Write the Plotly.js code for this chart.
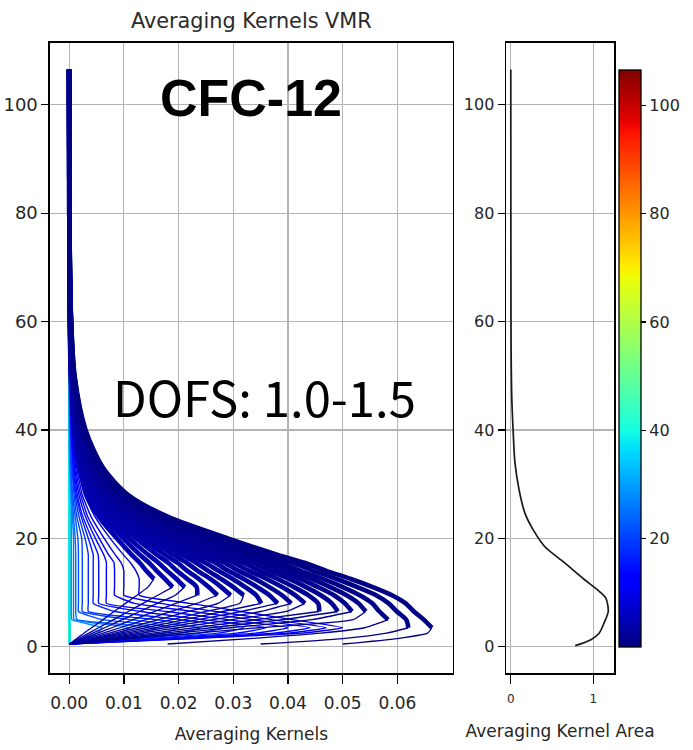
<!DOCTYPE html>
<html><head><meta charset="utf-8">
<script src="https://cdn.plot.ly/plotly-3.0.1.min.js"></script>
<style>html,body{margin:0;padding:0;background:#fff;} #chart{width:693px;height:750px;}</style>
</head><body><div id="chart"></div>
<script>
// ---- data ----
const altGrid = [0.5, 1.5, 2.5, 3.5, 5, 6.5, 8, 9.5, 11, 12.5, 14, 15.5, 17, 20, 24, 28, 33, 40, 50, 62, 80, 106.5];

// altitude (km) of each averaging-kernel row, increasing
const rowAlt = [0.3, 0.55, 0.8, 1.05, 1.3, 1.55, 1.8, 2.05, 2.3, 2.55, 2.8, 3.05, 3.3, 3.55, 3.8, 4.05, 4.3, 4.55,
                8.5, 10, 11.5, 13, 14.5, 16, 18, 20, 22, 24, 26, 28,
                36, 40, 44, 48,
                52, 62, 74, 88, 104];

// kernel values of each row on altGrid
const akRows = [
 [0.05, 0.06, 0.0655, 0.0663, 0.0648, 0.063, 0.0615, 0.059, 0.0555, 0.0515, 0.047, 0.043, 0.038, 0.029, 0.018, 0.0108, 0.0062, 0.003, 0.001, 0.0003, 0.00005, 0],
 [0.035, 0.05, 0.058, 0.062, 0.0616, 0.0599, 0.0584, 0.0561, 0.0527, 0.0489, 0.0447, 0.0409, 0.0361, 0.0276, 0.0171, 0.0103, 0.0059, 0.0029, 0.00095, 0.0003, 0.00005, 0],
 [0.018, 0.033, 0.046, 0.054, 0.0583, 0.0567, 0.0554, 0.0531, 0.05, 0.0464, 0.0423, 0.0387, 0.0342, 0.0261, 0.0162, 0.0097, 0.0056, 0.0027, 0.0009, 0.00027, 0.00005, 0],
 [0, 0.0115, 0.0231, 0.0346, 0.0519, 0.0542, 0.0529, 0.0507, 0.0477, 0.0443, 0.0404, 0.037, 0.0327, 0.0249, 0.0155, 0.0093, 0.0053, 0.0026, 0.00086, 0.00026, 0.00004, 0],
 [0, 0.0099, 0.0197, 0.0296, 0.0444, 0.0517, 0.0504, 0.0484, 0.0455, 0.0422, 0.0385, 0.0353, 0.0312, 0.0238, 0.0148, 0.0089, 0.0051, 0.0025, 0.00082, 0.00025, 0.00004, 0],
 [0, 0.0087, 0.0174, 0.026, 0.0391, 0.0491, 0.048, 0.046, 0.0433, 0.0402, 0.0367, 0.0335, 0.0296, 0.0226, 0.014, 0.0084, 0.0048, 0.0023, 0.00078, 0.00023, 0.00004, 0],
 [0, 0.0076, 0.0152, 0.0229, 0.0343, 0.0457, 0.0455, 0.0437, 0.0411, 0.0381, 0.0348, 0.0318, 0.0281, 0.0215, 0.0133, 0.008, 0.0046, 0.0022, 0.00074, 0.00022, 0.00004, 0],
 [0, 0.0066, 0.0132, 0.0199, 0.0298, 0.0397, 0.0431, 0.0413, 0.0389, 0.0361, 0.0329, 0.0301, 0.0266, 0.0203, 0.0126, 0.0076, 0.0043, 0.0021, 0.0007, 0.00021, 0.00004, 0],
 [0, 0.0058, 0.0117, 0.0175, 0.0263, 0.035, 0.0406, 0.0389, 0.0366, 0.034, 0.031, 0.0284, 0.0251, 0.0191, 0.0119, 0.0071, 0.0041, 0.002, 0.00066, 0.0002, 0.00003, 0],
 [0, 0.0052, 0.0105, 0.0157, 0.0236, 0.0315, 0.0381, 0.0366, 0.0344, 0.0319, 0.0291, 0.0267, 0.0236, 0.018, 0.0112, 0.0067, 0.0038, 0.0019, 0.00062, 0.00019, 0.00003, 0],
 [0, 0.0047, 0.0094, 0.014, 0.0211, 0.0281, 0.0351, 0.0342, 0.0322, 0.0299, 0.0273, 0.0249, 0.022, 0.0168, 0.0104, 0.0063, 0.0036, 0.0017, 0.00058, 0.00017, 0.00003, 0],
 [0, 0.0042, 0.0083, 0.0125, 0.0187, 0.025, 0.0312, 0.0319, 0.03, 0.0278, 0.0254, 0.0232, 0.0205, 0.0157, 0.0097, 0.0058, 0.0033, 0.0016, 0.00054, 0.00016, 0.00003, 0],
 [0, 0.0036, 0.0073, 0.0109, 0.0163, 0.0218, 0.0272, 0.0295, 0.0278, 0.0258, 0.0235, 0.0215, 0.019, 0.0145, 0.009, 0.0054, 0.0031, 0.0015, 0.0005, 0.00015, 0.00003, 0],
 [0, 0.0031, 0.0062, 0.0093, 0.014, 0.0186, 0.0233, 0.0271, 0.0255, 0.0237, 0.0216, 0.0198, 0.0175, 0.0133, 0.0083, 0.005, 0.0029, 0.0014, 0.00046, 0.00014, 0.00002, 0],
 [0, 0.0026, 0.0052, 0.0078, 0.0117, 0.0156, 0.0195, 0.0234, 0.0233, 0.0216, 0.0197, 0.0181, 0.016, 0.0122, 0.0076, 0.0045, 0.0026, 0.0013, 0.00042, 0.00013, 0.00002, 0],
 [0, 0.0022, 0.0043, 0.0065, 0.0097, 0.0129, 0.0161, 0.0194, 0.0211, 0.0196, 0.0179, 0.0163, 0.0144, 0.011, 0.0068, 0.0041, 0.0024, 0.0011, 0.00038, 0.00011, 0.00002, 0],
 [0, 0.0018, 0.0036, 0.0054, 0.0081, 0.0108, 0.0135, 0.0162, 0.0189, 0.0175, 0.016, 0.0146, 0.0129, 0.0099, 0.0061, 0.0037, 0.0021, 0.001, 0.00034, 0.0001, 0.00002, 0],
 [0, 0.0014, 0.0027, 0.0041, 0.0062, 0.0082, 0.0103, 0.0124, 0.0144, 0.0155, 0.0141, 0.0129, 0.0114, 0.0087, 0.0054, 0.0032, 0.0019, 0.0009, 0.0003, 0.00009, 0.00002, 0],
 [0, 0.0225, 0.0425, 0.05, 0.0407, 0.0314, 0.0221, 0.0128, 0.0128, 0.0128, 0.0122, 0.0112, 0.0099, 0.0075, 0.0047, 0.0028, 0.0016, 0.00078, 0.00026, 0.00008, 0.00001, 0],
 [0, 0.0212, 0.04, 0.047, 0.0369, 0.0268, 0.0167, 0.01, 0.01, 0.01, 0.01, 0.0095, 0.0084, 0.0064, 0.004, 0.0024, 0.0014, 0.00066, 0.00022, 0.00007, 0.00001, 0],
 [0, 0.0198, 0.0374, 0.044, 0.0333, 0.0226, 0.0119, 0.0083, 0.0083, 0.0083, 0.0083, 0.0082, 0.0072, 0.0055, 0.0034, 0.0021, 0.0012, 0.00057, 0.00019, 0.00006, 0.00001, 0],
 [0, 0.018, 0.034, 0.04, 0.0289, 0.0179, 0.0068, 0.0068, 0.0068, 0.0068, 0.0068, 0.0068, 0.0063, 0.0048, 0.003, 0.0018, 0.001, 0.0005, 0.00017, 0.00005, 0.00001, 0],
 [0, 0.0162, 0.0306, 0.036, 0.0245, 0.0131, 0.0054, 0.0054, 0.0054, 0.0054, 0.0054, 0.0054, 0.0053, 0.0041, 0.0025, 0.0015, 0.0009, 0.00042, 0.00014, 0.00004, 0.00001, 0],
 [0, 0.0144, 0.0272, 0.032, 0.0202, 0.0083, 0.0044, 0.0044, 0.0044, 0.0044, 0.0044, 0.0044, 0.0044, 0.0035, 0.0022, 0.0013, 0.00074, 0.00036, 0.00012, 0.00004, 0.00001, 0],
 [0, 0.0126, 0.0238, 0.028, 0.0158, 0.0035, 0.0035, 0.0035, 0.0035, 0.0035, 0.0035, 0.0035, 0.0035, 0.0029, 0.0018, 0.0011, 0.0006, 0.0003, 0.0001, 0.00003, 0, 0],
 [0, 0.0108, 0.0204, 0.024, 0.011, 0.0024, 0.0024, 0.0024, 0.0024, 0.0024, 0.0024, 0.0024, 0.0024, 0.0023, 0.0014, 0.0009, 0.0005, 0.00024, 0.00008, 0.00002, 0, 0],
 [0, 0.009, 0.017, 0.02, 0.0061, 0.0017, 0.0017, 0.0017, 0.0017, 0.0017, 0.0017, 0.0017, 0.0017, 0.0016, 0.0011, 0.00065, 0.00037, 0.00018, 0.00006, 0.00002, 0, 0],
 [0, 0.0072, 0.0136, 0.016, 0.0014, 0.0012, 0.0012, 0.0012, 0.0012, 0.0012, 0.0012, 0.0012, 0.0012, 0.0011, 0.0008, 0.0005, 0.00028, 0.00014, 0.00005, 0.00001, 0, 0],
 [0, 0.005, 0.0094, 0.011, 0.0009, 0.0008, 0.0008, 0.0008, 0.0008, 0.0008, 0.0008, 0.0008, 0.0008, 0.0008, 0.0006, 0.0004, 0.00019, 0.00009, 0.00003, 0.00001, 0, 0],
 [0, 0.0027, 0.0051, 0.006, 0.0005, 0.0004, 0.0004, 0.0004, 0.0004, 0.0004, 0.0004, 0.0004, 0.0004, 0.0004, 0.0004, 0.0003, 0.0001, 0.00005, 0, 0, 0, 0],
 [0, 0.0001, 0.0001, 0.0001, 0.00005, 0.00005, 0.00005, 0.00005, 0.00005, 0.00005, 0.00005, 0.00005, 0.00005, 0.00005, 0.00005, 0.00005, 0.00003, 0.00002, 0, 0, 0, 0],
 [0, 0.00008, 0.0001, 0.0001, 0.00004, 0.00004, 0.00004, 0.00004, 0.00004, 0.00004, 0.00004, 0.00004, 0.00004, 0.00004, 0.00004, 0.00003, 0.00002, 0.00001, 0, 0, 0, 0],
 [0, 0.00006, 0.00008, 0.00008, 0.00003, 0.00003, 0.00003, 0.00003, 0.00003, 0.00003, 0.00003, 0.00003, 0.00003, 0.00003, 0.00003, 0.00002, 0.00002, 0.00001, 0, 0, 0, 0],
 [0, 0.00004, 0.00006, 0.00006, 0.00002, 0.00002, 0.00002, 0.00002, 0.00002, 0.00002, 0.00002, 0.00002, 0.00002, 0.00002, 0.00002, 0.00002, 0.00001, 0.00001, 0, 0, 0, 0],
 [0, 0.00002, 0.00003, 0.00003, 0.00001, 0.00001, 0.00001, 0.00001, 0.00001, 0.00001, 0.00001, 0.00001, 0.00001, 0.00001, 0.00001, 0.00001, 0.00001, 0, 0, 0, 0, 0],
 [0, 0.00001, 0.00002, 0.00002, 0.00001, 0.00001, 0.00001, 0.00001, 0.00001, 0.00001, 0.00001, 0.00001, 0.00001, 0.00001, 0.00001, 0.00001, 0, 0, 0, 0, 0, 0],
 [0, 0.00001, 0.00001, 0.00001, 0.00001, 0, 0, 0, 0, 0, 0, 0, 0, 0, 0, 0, 0, 0, 0, 0, 0, 0],
 [0, 0, 0.00001, 0.00001, 0, 0, 0, 0, 0, 0, 0, 0, 0, 0, 0, 0, 0, 0, 0, 0, 0, 0],
 [0, 0, 0, 0, 0, 0, 0, 0, 0, 0, 0, 0, 0, 0, 0, 0, 0, 0, 0, 0, 0, 0]
];

// averaging kernel area (right panel)
const areaAlt = [0.2, 1.3, 2.5, 4.4, 6.5, 9, 10.5, 12.4, 15.5, 18.5, 21.6, 24.7, 29, 34, 40, 46, 55, 65, 80, 106.5];
const areaVal = [0.78, 0.97, 1.07, 1.13, 1.18, 1.15, 1.05, 0.89, 0.65, 0.41, 0.27, 0.17, 0.10, 0.05, 0.028, 0.012, 0.004, 0.002, 0.001, 0];

const akTicks = [0, 0.01, 0.02, 0.03, 0.04, 0.05, 0.06];
const areaTicks = [0, 1];
const altTicks = [0, 20, 40, 60, 80, 100];
const cbTicks = [20, 40, 60, 80, 100];
const altMax = 106.5;

// ---- styling ----
const jet = [[0,'rgb(0,0,128)'],[0.11,'rgb(0,0,255)'],[0.125,'rgb(0,0,255)'],[0.34,'rgb(0,219,255)'],
  [0.35,'rgb(0,229,247)'],[0.375,'rgb(21,255,226)'],[0.64,'rgb(239,255,8)'],[0.65,'rgb(247,245,0)'],
  [0.66,'rgb(255,236,0)'],[0.89,'rgb(255,19,0)'],[0.91,'rgb(232,0,0)'],[1,'rgb(128,0,0)']];
function parseRgb(s){return s.match(/\d+/g).map(Number);}
function jetColor(v){
  const f = Math.max(0, Math.min(1, v/altMax));
  for (let i=1;i<jet.length;i++){
    if (f <= jet[i][0]) {
      const a = parseRgb(jet[i-1][1]), b = parseRgb(jet[i][1]);
      const t = (f - jet[i-1][0])/(jet[i][0]-jet[i-1][0]);
      const c = a.map((q,k)=>Math.round(q + (b[k]-q)*t));
      return 'rgb('+c.join(',')+')';
    }
  }
  return jet[jet.length-1][1];
}
function argmax(a){let m=0;for(let i=1;i<a.length;i++) if(a[i]>a[m]) m=i; return m;}

const fontMain = 'DejaVu Sans, sans-serif';
const traces = [];
const lowerParts = [], upperParts = [];
for (let k = akRows.length-1; k >= 0; k--) {
  const col = jetColor(rowAlt[k]);
  if (rowAlt[k] < 8) {
    const m = argmax(akRows[k]);
    lowerParts.push({type:'scatter', mode:'lines', x: akRows[k].slice(0, m+1), y: altGrid.slice(0, m+1),
      xaxis:'x', yaxis:'y', line:{color: col, width: 1.3, shape:'spline', smoothing:0.5},
      hoverinfo:'skip', showlegend:false});
    upperParts.push({type:'scatter', mode:'lines', x: akRows[k].slice(m), y: altGrid.slice(m),
      xaxis:'x', yaxis:'y', line:{color: col, width: 4.6, shape:'spline', smoothing:0.8},
      hoverinfo:'skip', showlegend:false});
  } else {
    traces.push({type:'scatter', mode:'lines', x: akRows[k], y: altGrid, xaxis:'x', yaxis:'y',
      line:{color: col, width: rowAlt[k] < 30 ? 1.4 : 2, shape:'spline', smoothing:0.4},
      hoverinfo:'skip', showlegend:false});
  }
}
traces.push(...lowerParts, ...upperParts);
traces.push({
  type:'scatter', mode:'lines+markers', x: areaVal, y: areaAlt, xaxis:'x2', yaxis:'y2',
  line:{color:'#1a1a1a', width:1.7, shape:'spline', smoothing:0.8},
  marker:{size:1, opacity:0, color: areaAlt, cmin:0, cmax:altMax, colorscale: jet, showscale:true,
    colorbar:{thickness:22, thicknessmode:'pixels', len:577, lenmode:'pixels',
      x:1.0088, xref:'paper', xanchor:'left', xpad:0, y:0.4992, yanchor:'middle', ypad:0,
      outlinewidth:1.3, outlinecolor:'#000', ticks:'outside', ticklen:5, tickwidth:1.2, tickcolor:'#000',
      tickmode:'array', tickvals: cbTicks, tickfont:{size:16, family:fontMain, color:'#262626'}}},
  hoverinfo:'skip', showlegend:false
});

const axBase = {showline:true, mirror:true, linecolor:'#000', linewidth:1.6, ticks:'outside',
  tickcolor:'#000', tickwidth:1.3, showgrid:true, gridcolor:'#b4b4b4', gridwidth:1.2, zeroline:false};

const layout = {
  width:693, height:750, margin:{l:50, r:73, t:43, b:77},
  paper_bgcolor:'#fff', plot_bgcolor:'#fff', showlegend:false,
  font:{family: fontMain, color:'#262626', size:16},
  title:{text:'Averaging Kernels VMR', font:{size:20.8, family: fontMain, color:'#2a2a2a'},
    x:0.357, xref:'paper', xanchor:'center', y:0.972, yref:'container', yanchor:'middle'},
  xaxis: Object.assign({}, axBase, {domain:[0,0.714], range:[-0.0035,0.0701], tickmode:'array',
    tickvals: akTicks, ticktext: akTicks.map(v=>v.toFixed(2)), ticklen:9, ticklabelstandoff:5,
    tickfont:{size:17}, title:{text:'Averaging Kernels', font:{size:17}, standoff:16}}),
  yaxis: Object.assign({}, axBase, {domain:[0,1], range:[-4.85,111.4], tickmode:'array',
    tickvals: altTicks, ticklen:7, tickfont:{size:18}}),
  xaxis2: Object.assign({}, axBase, {domain:[0.8088,1], anchor:'y2', range:[-0.056,1.25], tickmode:'array',
    tickvals: areaTicks, ticklen:9, ticklabelstandoff:5, tickfont:{size:12},
    title:{text:'Averaging Kernel Area', font:{size:17}, standoff:20}}),
  yaxis2: Object.assign({}, axBase, {domain:[0,1], anchor:'x2', range:[-4.85,111.4], tickmode:'array',
    tickvals: altTicks, ticklen:7, tickfont:{size:16}}),
  annotations:[
    {text:'<b>CFC-12</b>', xref:'paper', yref:'paper', x:0.356, y:0.9127, xanchor:'center', yanchor:'middle',
     showarrow:false, font:{family:'Liberation Sans, Arial, sans-serif', size:52, color:'#000'}},
    {text:'DOFS: 1.0-1.5', xref:'paper', yref:'paper', x:0.3807, y:0.441, xanchor:'center', yanchor:'middle',
     showarrow:false, font:{family:'Noto Sans CJK JP, Noto Sans, sans-serif', size:49, color:'#000'}}
  ]
};

Plotly.newPlot('chart', traces, layout, {staticPlot:true, displayModeBar:false});
</script>
</body></html>
